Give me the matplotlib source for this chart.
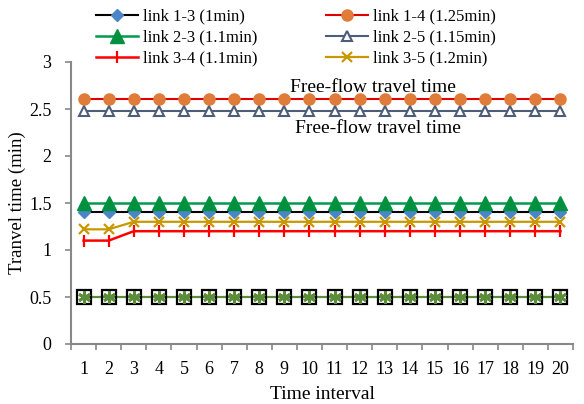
import matplotlib
matplotlib.use("Agg")
import matplotlib.pyplot as plt
import numpy as np

plt.rcParams['font.family'] = ['Liberation Serif', 'DejaVu Serif']

intervals = list(range(1, 21))
link_13 = [1.4] * 20
link_14 = [2.61] * 20
link_23 = [1.5] * 20
link_25 = [2.48] * 20
link_34 = [1.1, 1.1] + [1.2] * 18
link_35 = [1.22, 1.22] + [1.3] * 18
link_other_a = [0.5] * 20
link_other_b = [0.5] * 20

fig = plt.figure(figsize=(5.84, 4.04), dpi=100)
ax = fig.add_axes([71 / 584, 60 / 404, (573 - 71) / 584, (344 - 62) / 404])

x = np.array(intervals)
ax.plot(x, link_other_a, color='#5B8C3A', lw=1.6, marker='s', ms=10, mfc='none',
        mec='black', mew=1.6, label='_nolegend_', zorder=2)
ax.plot(x, link_other_b, color='#5B8C3A', lw=0, marker=(6, 2, 0), ms=9,
        mec='#5B8C3A', mew=2.0, label='_nolegend_', zorder=3)

l13, = ax.plot(x, link_13, color='black', lw=1.5, marker='D', ms=6,
               mfc='#4A86C5', mec='#4A86C5', label='link 1-3 (1min)')
l14, = ax.plot(x, link_14, color='#E00000', lw=1.5, marker='o', ms=8,
               mfc='#E07B39', mec='#E07B39', label='link 1-4 (1.25min)')
l23, = ax.plot(x, link_23, color='#009A4E', lw=1.8, marker='^', ms=10,
               mfc='#00913F', mec='#00913F', label='link 2-3 (1.1min)')
l25, = ax.plot(x, link_25, color='#4E5D78', lw=1.5, marker='^', ms=6.5,
               mfc='white', mec='#4E5D78', mew=1.5, label='link 2-5 (1.15min)')
l34, = ax.plot(x, link_34, color='#FF0000', lw=1.8, marker='|', ms=9,
               mec='#FF0000', mew=1.6, label='link 3-4 (1.1min)')
l35, = ax.plot(x, link_35, color='#C89800', lw=1.6, marker='x', ms=7.5,
               mec='#C89800', mew=1.6, label='link 3-5 (1.2min)')

ax.set_xlim(0.5, 20.5)
ax.set_ylim(0, 3)
ax.set_yticks(np.arange(0, 3.01, 0.5))
ax.set_yticklabels(['0', '0.5', '1', '1.5', '2', '2.5', '3'])
ax.set_xticks(intervals)
ax.set_xticklabels([str(i) for i in intervals])
ax.set_xticks(np.arange(0.5, 20.6, 1), minor=True)
ax.tick_params(axis='x', which='major', length=0, labelsize=13, pad=12)
ax.tick_params(axis='x', which='minor', length=4, color='#888888', width=1.2)
ax.tick_params(axis='y', length=4, color='#888888', width=1.2, labelsize=13, pad=10)

for side in ('top', 'right'):
    ax.spines[side].set_visible(False)
for side in ('left', 'bottom'):
    ax.spines[side].set_color('#888888')
    ax.spines[side].set_linewidth(1.5)

ax.set_xlabel('Time interval', fontsize=14, labelpad=6)
ax.set_ylabel('Tranvel time (min)', fontsize=13.5, labelpad=2)

ax.text(12.53, 2.73, 'Free-flow travel time', ha='center', va='center', fontsize=14)
ax.text(12.73, 2.29, 'Free-flow travel time', ha='center', va='center', fontsize=14)

handles = [l13, l14, l23, l25, l34, l35]
# legend filled row-wise across two columns
order = [0, 2, 4, 1, 3, 5]
fig.legend([handles[i] for i in order], [handles[i].get_label() for i in order],
           ncol=2, loc='upper left', bbox_to_anchor=(0.145, 1.008), frameon=False,
           fontsize=12, handlelength=2.5, columnspacing=4.1, labelspacing=0.3,
           handletextpad=0.3, borderaxespad=0.3)

fig.savefig('out.png', dpi=100)
